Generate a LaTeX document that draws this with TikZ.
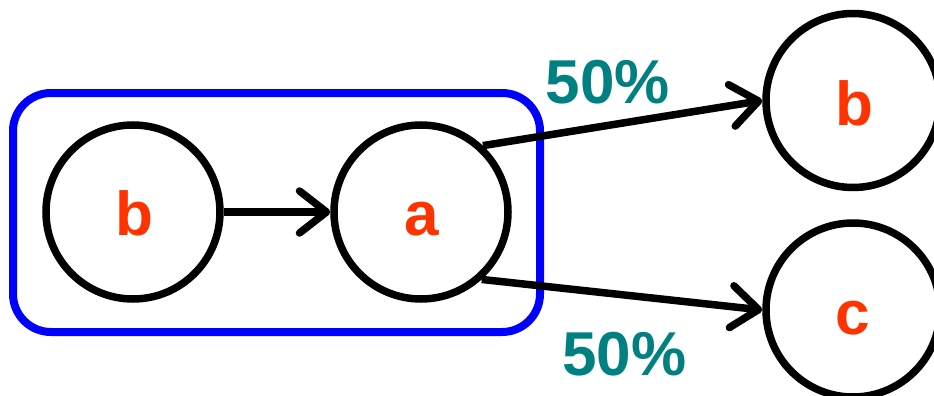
\documentclass[tikz,border=0pt]{standalone}
\usepackage{fontspec}
\setmainfont{Liberation Sans}
\usetikzlibrary{arrows.meta}
\definecolor{lblred}{HTML}{FF3300}
\definecolor{pctteal}{HTML}{008080}
\begin{document}
\begin{tikzpicture}[x=1pt,y=-1pt,
 state/.style={circle,draw=black,line width=7.5pt,minimum size=174pt,inner sep=0pt},
 letter/.style={anchor=base,inner sep=0pt,text=lblred,font=\fontsize{62}{70}\selectfont\bfseries},
 pct/.style={anchor=base,inner sep=0pt,text=pctteal,font=\fontsize{62}{70}\selectfont\bfseries},
 edge/.style={line width=7.5pt,-{Straight Barb[length=27pt,width=42pt,round]}},
 group/.style={draw=blue,line width=8pt,rounded corners=38pt,minimum width=527pt,minimum height=239pt,inner sep=0pt}]
\useasboundingbox (0,0) rectangle (934,396);
\node[group] (grp) at (276.5,212.5) {};
\node[state] (b1) at (133,212) {};
\node[state] (a) at (421,212) {};
\node[state] (b2) at (853,100.5) {};
\node[state] (c) at (853,310) {};
\node[letter] (lb1) at (134,235) {b};
\node[letter] (la) at (421.5,235.5) {a};
\node[letter] (lb2) at (854,125) {b};
\node[letter] (lc) at (853,334) {c};
\draw[edge] (b1) -- (a);
\draw[edge] (a.47) -- (b2.west);
\draw[edge] (a.-48) -- (c.west);
\node[pct] (p1) at (608,103) {50\%};
\node[pct] (p2) at (624.5,375) {50\%};
\end{tikzpicture}
\end{document}
